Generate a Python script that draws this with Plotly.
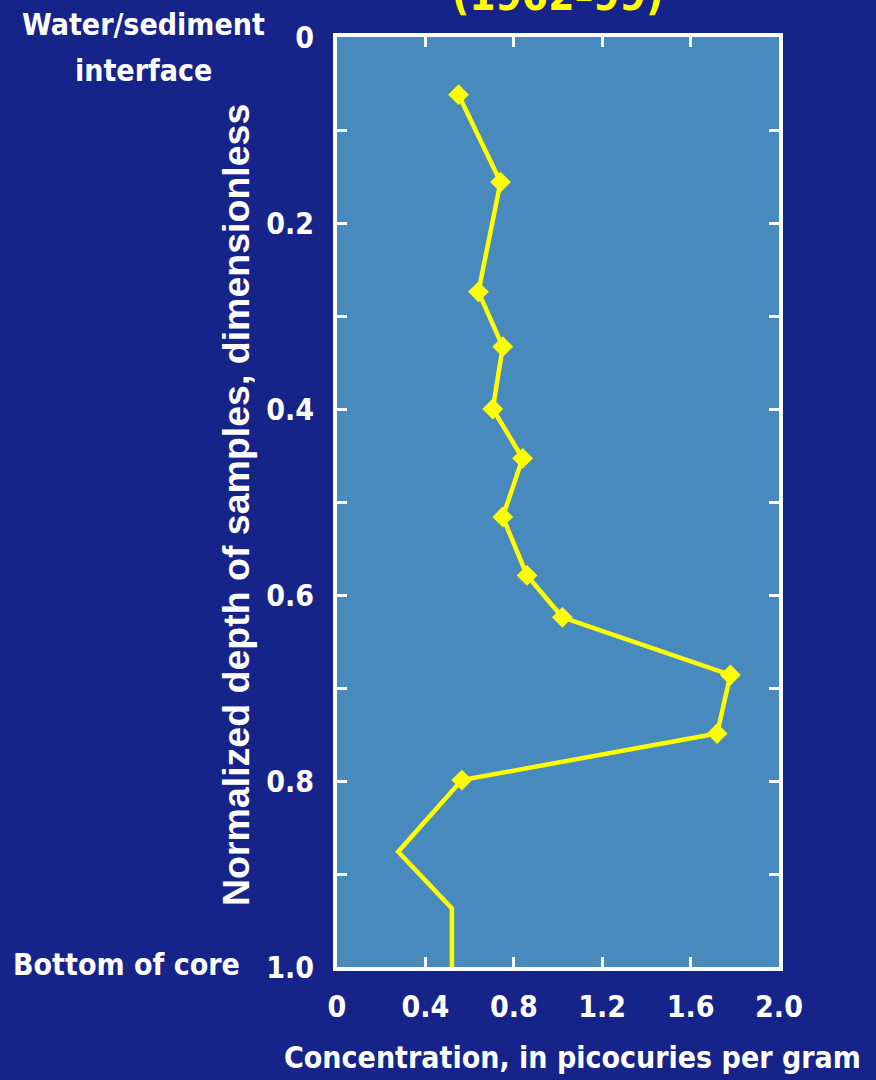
import plotly.graph_objects as go

# Sediment-core profile: concentration versus normalized depth
depth = [0.062, 0.156, 0.274, 0.333, 0.400, 0.453, 0.516, 0.579, 0.624,
         0.686, 0.749, 0.799, 0.876, 0.937, 1.0]
concentration = [0.55, 0.74, 0.64, 0.75, 0.705, 0.84, 0.75, 0.86, 1.02,
                 1.78, 1.72, 0.565, 0.277, 0.52, 0.52]
has_marker = [True] * 12 + [False] * 3

y_tick_vals = [0.0, 0.1, 0.2, 0.3, 0.4, 0.5, 0.6, 0.7, 0.8, 0.9, 1.0]
y_tick_text = ["0", "", "0.2", "", "0.4", "", "0.6", "", "0.8", "", "1.0"]
x_tick_vals = [0.0, 0.4, 0.8, 1.2, 1.6, 2.0]
x_tick_text = ["0", "0.4", "0.8", "1.2", "1.6", "2.0"]

title_text = "(1962–99)"
top_label_1 = "Water/sediment"
top_label_2 = "interface"
bottom_label = "Bottom of core"
x_title = "Concentration, in picocuries per gram"
y_title = "Normalized depth of samples, dimensionless"

NAVY = "#16248a"
PANEL = "#488abe"
YELLOW = "#ffff00"
WHITE = "#ffffff"
NARROW = "Liberation Sans Narrow, DejaVu Sans Condensed, Arial Narrow, sans-serif"
REGULAR = "Liberation Sans, Arial, sans-serif"

# plot-area geometry in pixels, used to place free text
PX_LEFT, PX_RIGHT, PX_TOP, PX_BOTTOM = 337, 779, 37, 967


def px_to_paper_x(px):
    return (px - PX_LEFT) / (PX_RIGHT - PX_LEFT)


def px_to_paper_y(py):
    return (PX_BOTTOM - py) / (PX_BOTTOM - PX_TOP)


fig = go.Figure()
fig.add_trace(go.Scatter(
    x=concentration,
    y=depth,
    mode="lines+markers",
    line=dict(color=YELLOW, width=4.5),
    marker=dict(symbol="diamond", color=YELLOW, opacity=1,
                line=dict(width=0, color=YELLOW),
                size=[16 if m else 0 for m in has_marker]),
    hoverinfo="x+y",
    showlegend=False,
))

axis_common = dict(
    showgrid=False,
    zeroline=False,
    showline=True,
    linecolor=WHITE,
    linewidth=4,
    mirror="ticks",
    ticks="inside",
    tickcolor=WHITE,
    tickwidth=3,
    ticklen=10,
    tickfont=dict(family=NARROW, size=30, color=WHITE, weight="bold"),
)

fig.update_xaxes(
    range=[0, 2.0],
    tickmode="array",
    tickvals=x_tick_vals,
    ticktext=x_tick_text,
    ticklabelstandoff=10,
    **axis_common,
)
fig.update_yaxes(
    range=[1.0, 0.0],
    tickmode="array",
    tickvals=y_tick_vals,
    ticktext=y_tick_text,
    ticklabelstandoff=13,
    **axis_common,
)

# axis titles as free text for exact placement
fig.add_annotation(
    text=x_title, xref="paper", yref="paper",
    x=px_to_paper_x(572), y=px_to_paper_y(1057),
    xanchor="center", yanchor="middle", showarrow=False,
    font=dict(family=NARROW, size=30, color=WHITE, weight="bold"),
)
fig.add_annotation(
    text=y_title, xref="paper", yref="paper", textangle=-90,
    x=px_to_paper_x(236), y=px_to_paper_y(505),
    xanchor="center", yanchor="middle", showarrow=False,
    font=dict(family=REGULAR, size=37.5, color=WHITE, weight="bold"),
)

fig.add_annotation(
    text=title_text, xref="paper", yref="paper", x=px_to_paper_x(557), y=1.045,
    xanchor="center", yanchor="middle", showarrow=False,
    font=dict(family=NARROW, size=42, color=YELLOW, weight="bold"),
)
fig.add_annotation(
    text=top_label_1, xref="paper", yref="paper",
    x=px_to_paper_x(143), y=px_to_paper_y(24),
    xanchor="center", yanchor="middle", showarrow=False,
    font=dict(family=NARROW, size=30, color=WHITE, weight="bold"),
)
fig.add_annotation(
    text=top_label_2, xref="paper", yref="paper",
    x=px_to_paper_x(143), y=px_to_paper_y(70),
    xanchor="center", yanchor="middle", showarrow=False,
    font=dict(family=NARROW, size=30, color=WHITE, weight="bold"),
)
fig.add_annotation(
    text=bottom_label, xref="paper", yref="paper",
    x=px_to_paper_x(126), y=px_to_paper_y(964),
    xanchor="center", yanchor="middle", showarrow=False,
    font=dict(family=NARROW, size=30, color=WHITE, weight="bold"),
)

fig.update_layout(
    width=876,
    height=1080,
    margin=dict(l=PX_LEFT, r=876 - PX_RIGHT, t=PX_TOP, b=1080 - PX_BOTTOM),
    paper_bgcolor=NAVY,
    plot_bgcolor=PANEL,
)

fig.write_html("out.html")
